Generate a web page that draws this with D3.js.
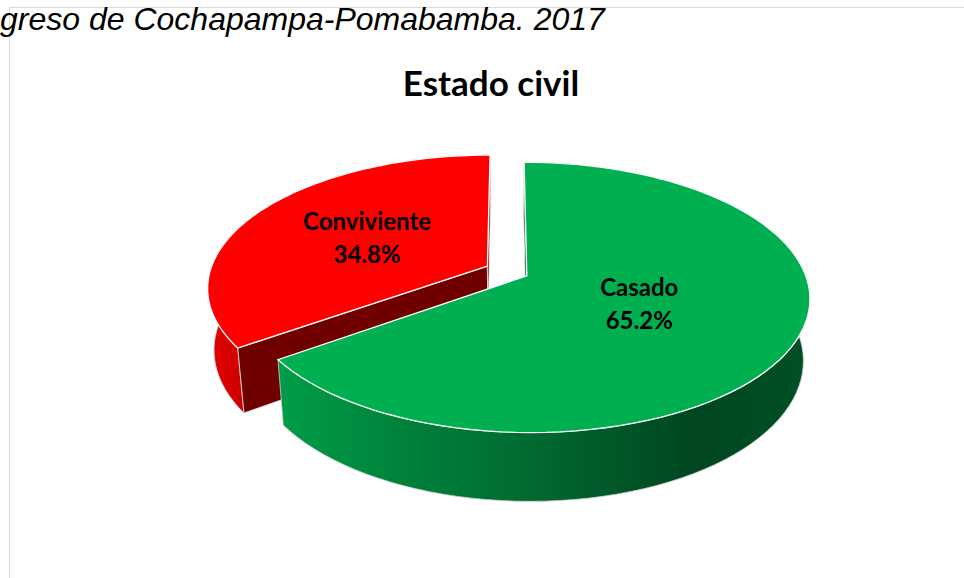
<!DOCTYPE html>
<html>
<head>
<meta charset="utf-8">
<script src="https://cdn.jsdelivr.net/npm/d3@7"></script>
<style>
  html, body { margin: 0; padding: 0; background: #fff; }
  svg { display: block; }
</style>
</head>
<body>
<div id="chart"></div>
<script>
// data
const categories = ["Casado", "Conviviente"];
const values = [65.2, 34.8];
const chartTitle = "Estado civil";
const caption = "greso de Cochapampa-Pomabamba. 2017";

const width = 964, height = 578;

const svg = d3.select("#chart")
    .append("svg")
    .attr("width", width)
    .attr("height", height);

const defs = svg.append("defs");

// chart frame
svg.append("rect")
    .attr("x", 9.5).attr("y", 7.5)
    .attr("width", 1000).attr("height", 700)
    .attr("fill", "none")
    .attr("stroke", "#d9d9d9");

svg.append("text")
    .attr("x", 0).attr("y", 30)
    .style("font-family", "'Liberation Sans', Arial, sans-serif")
    .style("font-style", "italic")
    .style("font-size", "32px")
    .attr("fill", "#000")
    .text(caption);

svg.append("text")
    .attr("x", 491).attr("y", 96)
    .attr("text-anchor", "middle")
    .style("font-family", "Lato, 'Open Sans', sans-serif")
    .style("font-weight", "bold")
    .style("font-size", "35px")
    .attr("fill", "#000")
    .text(chartTitle);

// 3d pie projection
const cam = {
    cx: 507, cy: 271,      // screen position of pie origin
    f: 1545, dist: 5.57,   // focal length, camera distance
    tilt: 28 * Math.PI / 180
};
const R = 1, depthH = 0.255, explode = 0.08;
const sinT = Math.sin(cam.tilt), cosT = Math.cos(cam.tilt);

function project(X, Y, Z) {
    const depth = cam.dist + Z * cosT - Y * sinT;
    const up = Y * cosT + Z * sinT;
    return [cam.cx + cam.f * X / depth, cam.cy - cam.f * up / depth];
}
const camPos = [0, cam.dist * sinT, -cam.dist * cosT];

const color = d3.scaleOrdinal(categories, ["#00b050", "#ff0000"]);

const arcs = d3.pie().sort(null).value(d => d)(values)
    .map((a, i) => {
        const mid = (a.startAngle + a.endAngle) / 2;
        return {...a, cat: categories[i], ox: explode * Math.sin(mid), oz: explode * Math.cos(mid), mid};
    });

function rim(a, t0, t1, Y, n = 90) {
    const pts = [];
    for (let k = 0; k <= n; k++) {
        const t = t0 + (t1 - t0) * k / n;
        pts.push(project(a.ox + R * Math.sin(t), Y, a.oz + R * Math.cos(t)));
    }
    return pts;
}
const line = d3.line().curve(d3.curveLinear);

function faceVisible(a, n) {
    const v = [camPos[0] - a.ox, camPos[1], camPos[2] - a.oz];
    return v[0] * n[0] + v[2] * n[2] > 0;
}

// far slice first
const order = arcs.slice().sort((p, q) => q.oz - p.oz);

order.forEach((a, i) => {
    const base = d3.color(color(a.cat));
    const g = svg.append("g").attr("class", "slice");

    const top = rim(a, a.startAngle, a.endAngle, 0);
    const bot = rim(a, a.startAngle, a.endAngle, -depthH);
    const xs = top.map(p => p[0]);

    const gid = "wall" + i;
    const grad = defs.append("linearGradient")
        .attr("id", gid)
        .attr("gradientUnits", "userSpaceOnUse")
        .attr("x1", d3.min(xs)).attr("x2", d3.max(xs))
        .attr("y1", 0).attr("y2", 0);
    [[0, 0.3], [0.25, 0.9], [0.5, 1.5], [0.78, 2.6], [1, 2.2]].forEach(([o, k]) => {
        grad.append("stop").attr("offset", o).attr("stop-color", base.darker(k).formatHex());
    });

    // outer wall
    g.append("path")
        .attr("d", line(top.concat(bot.slice().reverse())) + "Z")
        .attr("fill", `url(#${gid})`)
        .attr("stroke", "#cfcfcf")
        .attr("stroke-width", 0.8);

    // cut faces
    const cTop = project(a.ox, 0, a.oz), cBot = project(a.ox, -depthH, a.oz);
    const faces = [
        {t: a.startAngle, n: [-Math.cos(a.startAngle), 0, Math.sin(a.startAngle)]},
        {t: a.endAngle, n: [Math.cos(a.endAngle), 0, -Math.sin(a.endAngle)]}
    ];
    faces.filter(fc => faceVisible(a, fc.n)).forEach(fc => {
        const eTop = project(a.ox + R * Math.sin(fc.t), 0, a.oz + R * Math.cos(fc.t));
        const eBot = project(a.ox + R * Math.sin(fc.t), -depthH, a.oz + R * Math.cos(fc.t));
        g.append("path")
            .attr("d", line([cTop, eTop, eBot, cBot]) + "Z")
            .attr("fill", base.darker(2.3).formatHex())
            .attr("stroke", "#e8e8e8")
            .attr("stroke-width", 0.8);
    });

    // top surface
    g.append("path")
        .attr("d", line([cTop].concat(top)) + "Z")
        .attr("fill", base.formatHex())
        .attr("stroke", "#ffffff")
        .attr("stroke-width", 1.3);
});

// labels: pulled in for big slices, toward sector centroid
arcs.forEach(a => {
    const span = a.endAngle - a.startAngle;
    const centroidR = 4 * R * Math.sin(span / 2) / (3 * span);
    const r = 0.35 + 0.3 * centroidR;
    const p = project(a.ox + r * Math.sin(a.mid), 0, a.oz + r * Math.cos(a.mid));
    const t = svg.append("text")
        .attr("text-anchor", "middle")
        .style("font-family", "Lato, 'Open Sans', sans-serif")
        .style("font-weight", "bold")
        .style("font-size", "24px")
        .attr("fill", "#000");
    t.append("tspan").attr("x", p[0]).attr("y", p[1] - 7).text(a.cat);
    t.append("tspan").attr("x", p[0]).attr("y", p[1] + 26)
        .text(d3.format(".1f")(a.value) + "%");
});
</script>
</body>
</html>
